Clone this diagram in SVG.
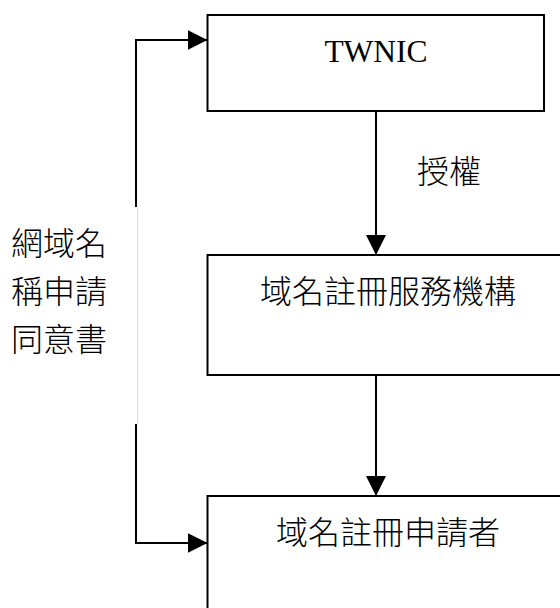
<svg xmlns="http://www.w3.org/2000/svg" width="560" height="608" viewBox="0 0 560 608">
<style>
.box{fill:#fff;stroke:#000;stroke-width:2}
.ln{fill:none;stroke:#000;stroke-width:2}
.cjk{font-family:"Noto Sans CJK TC","Noto Sans CJK SC",sans-serif;font-size:32px;font-weight:300;fill:#000}
.lat{font-family:"Liberation Serif",serif;font-size:31.5px;fill:#000}
</style>
<defs>
<marker id="arr" markerWidth="20" markerHeight="20" refX="20" refY="10" orient="auto" markerUnits="userSpaceOnUse">
<path d="M0,0 L20,10 L0,20 Z" fill="#000"/>
</marker>
</defs>
<rect width="560" height="608" fill="#fff"/>
<g id="connectors">
<line class="ln" x1="376" y1="111" x2="376" y2="255" marker-end="url(#arr)"/>
<line class="ln" x1="376" y1="375" x2="376" y2="496" marker-end="url(#arr)"/>
<polyline class="ln" points="136,207 136,40 207.5,40" marker-end="url(#arr)"/>
<line x1="137.5" y1="207" x2="137.5" y2="424" stroke="#ddd" stroke-width="1"/>
<polyline class="ln" points="136,424 136,543 207.5,543" marker-end="url(#arr)"/>
<text class="cjk" x="417" y="183">授權</text>
<text class="cjk" x="11" y="255">網域名</text>
<text class="cjk" x="11" y="303">稱申請</text>
<text class="cjk" x="11" y="351">同意書</text>
</g>
<g id="twnic">
<rect class="box" x="207.5" y="15" width="336.5" height="96"/>
<text class="lat" x="376" y="62" text-anchor="middle">TWNIC</text>
</g>
<g id="registrar">
<rect class="box" x="207.5" y="255" width="370" height="120"/>
<text class="cjk" x="388" y="303" text-anchor="middle">域名註冊服務機構</text>
</g>
<g id="applicant">
<rect class="box" x="207.5" y="496" width="370" height="130"/>
<text class="cjk" x="388" y="544" text-anchor="middle">域名註冊申請者</text>
</g>
</svg>
